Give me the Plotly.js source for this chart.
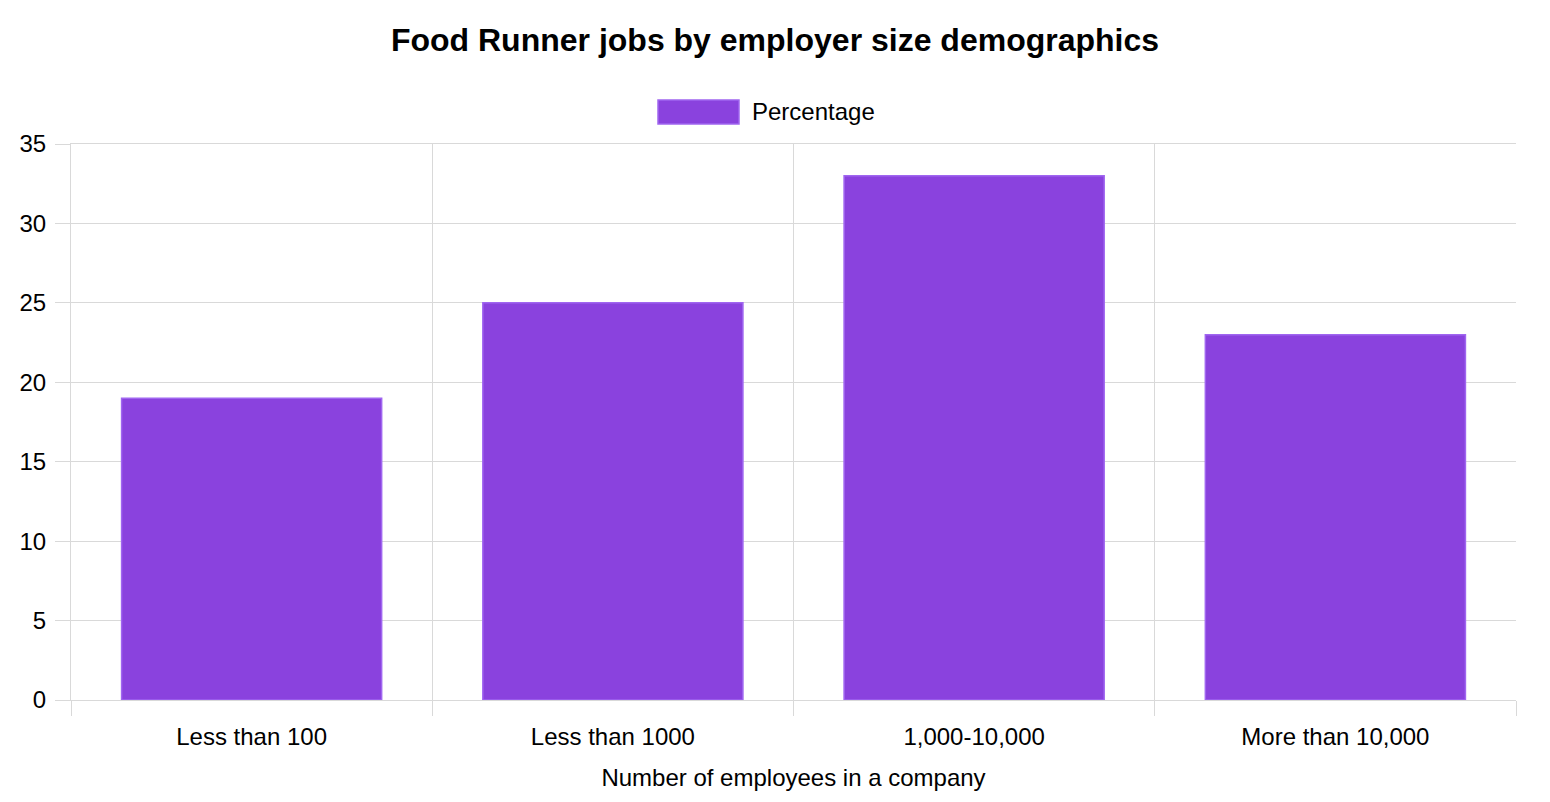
<!DOCTYPE html>
<html>
<head>
<meta charset="utf-8">
<script src="https://cdn.plot.ly/plotly-3.0.1.min.js"></script>
<style>
  html, body { margin: 0; padding: 0; background: #fff; }
  #chart { width: 1550px; height: 802px; }
</style>
</head>
<body>
<div id="chart"></div>
<script>
// categories and values
var categories = ['Less than 100', 'Less than 1000', '1,000-10,000', 'More than 10,000'];
var percentages = [19, 25, 33, 23];
var seriesName = 'Percentage';

var barFill = '#8a42de';
var barEdge = '#a066f0';
var gridCol = '#d9d9d9';

var trace = {
  x: categories,
  y: percentages,
  type: 'bar',
  name: seriesName,
  width: 0.72,
  marker: { color: barFill, line: { color: barEdge, width: 1.5 } },
  hoverinfo: 'x+y'
};

var layout = {
  width: 1550,
  height: 802,
  margin: { l: 71, r: 34, t: 144, b: 102 },
  paper_bgcolor: '#fff',
  plot_bgcolor: '#fff',
  font: { family: 'Liberation Sans, Arial, sans-serif', color: '#000', size: 24 },
  title: {
    text: '<b>Food Runner jobs by employer size demographics</b>',
    font: { size: 32, color: '#000' },
    x: 0.5, xanchor: 'center', y: 0.95, yanchor: 'middle'
  },
  showlegend: false,
  bargap: 0.28,
  xaxis: {
    type: 'category',
    range: [-0.5, 3.5],
    tickson: 'boundaries',
    ticks: 'outside',
    ticklen: 15,
    tickcolor: gridCol,
    ticklabelstandoff: 15,
    showgrid: true,
    gridcolor: gridCol,
    gridwidth: 1,
    showline: true,
    linecolor: gridCol,
    mirror: true,
    zeroline: false,
    tickfont: { size: 24 },
    title: { text: 'Number of employees in a company', font: { size: 24 }, standoff: 20 }
  },
  yaxis: {
    range: [0, 35],
    dtick: 5,
    ticks: 'outside',
    ticklen: 15,
    tickcolor: gridCol,
    ticklabelstandoff: 4,
    showgrid: true,
    gridcolor: gridCol,
    showline: true,
    linecolor: gridCol,
    zeroline: false,
    tickfont: { size: 24 }
  },
  // hand-made legend box, placed like the original's
  shapes: [{
    type: 'rect', xref: 'paper', yref: 'paper',
    x0: (658 - 71) / 1445, x1: (739 - 71) / 1445,
    y0: (700 - 124) / 556, y1: (700 - 100) / 556,
    fillcolor: barFill, line: { color: barEdge, width: 1.5 }
  }],
  annotations: [{
    text: seriesName, xref: 'paper', yref: 'paper',
    x: (750 - 71) / 1445, y: (700 - 112) / 556,
    xanchor: 'left', yanchor: 'middle', showarrow: false,
    font: { size: 24, color: '#000' }
  }]
};

Plotly.newPlot('chart', [trace], layout, { displayModeBar: false, responsive: false });
</script>
</body>
</html>
